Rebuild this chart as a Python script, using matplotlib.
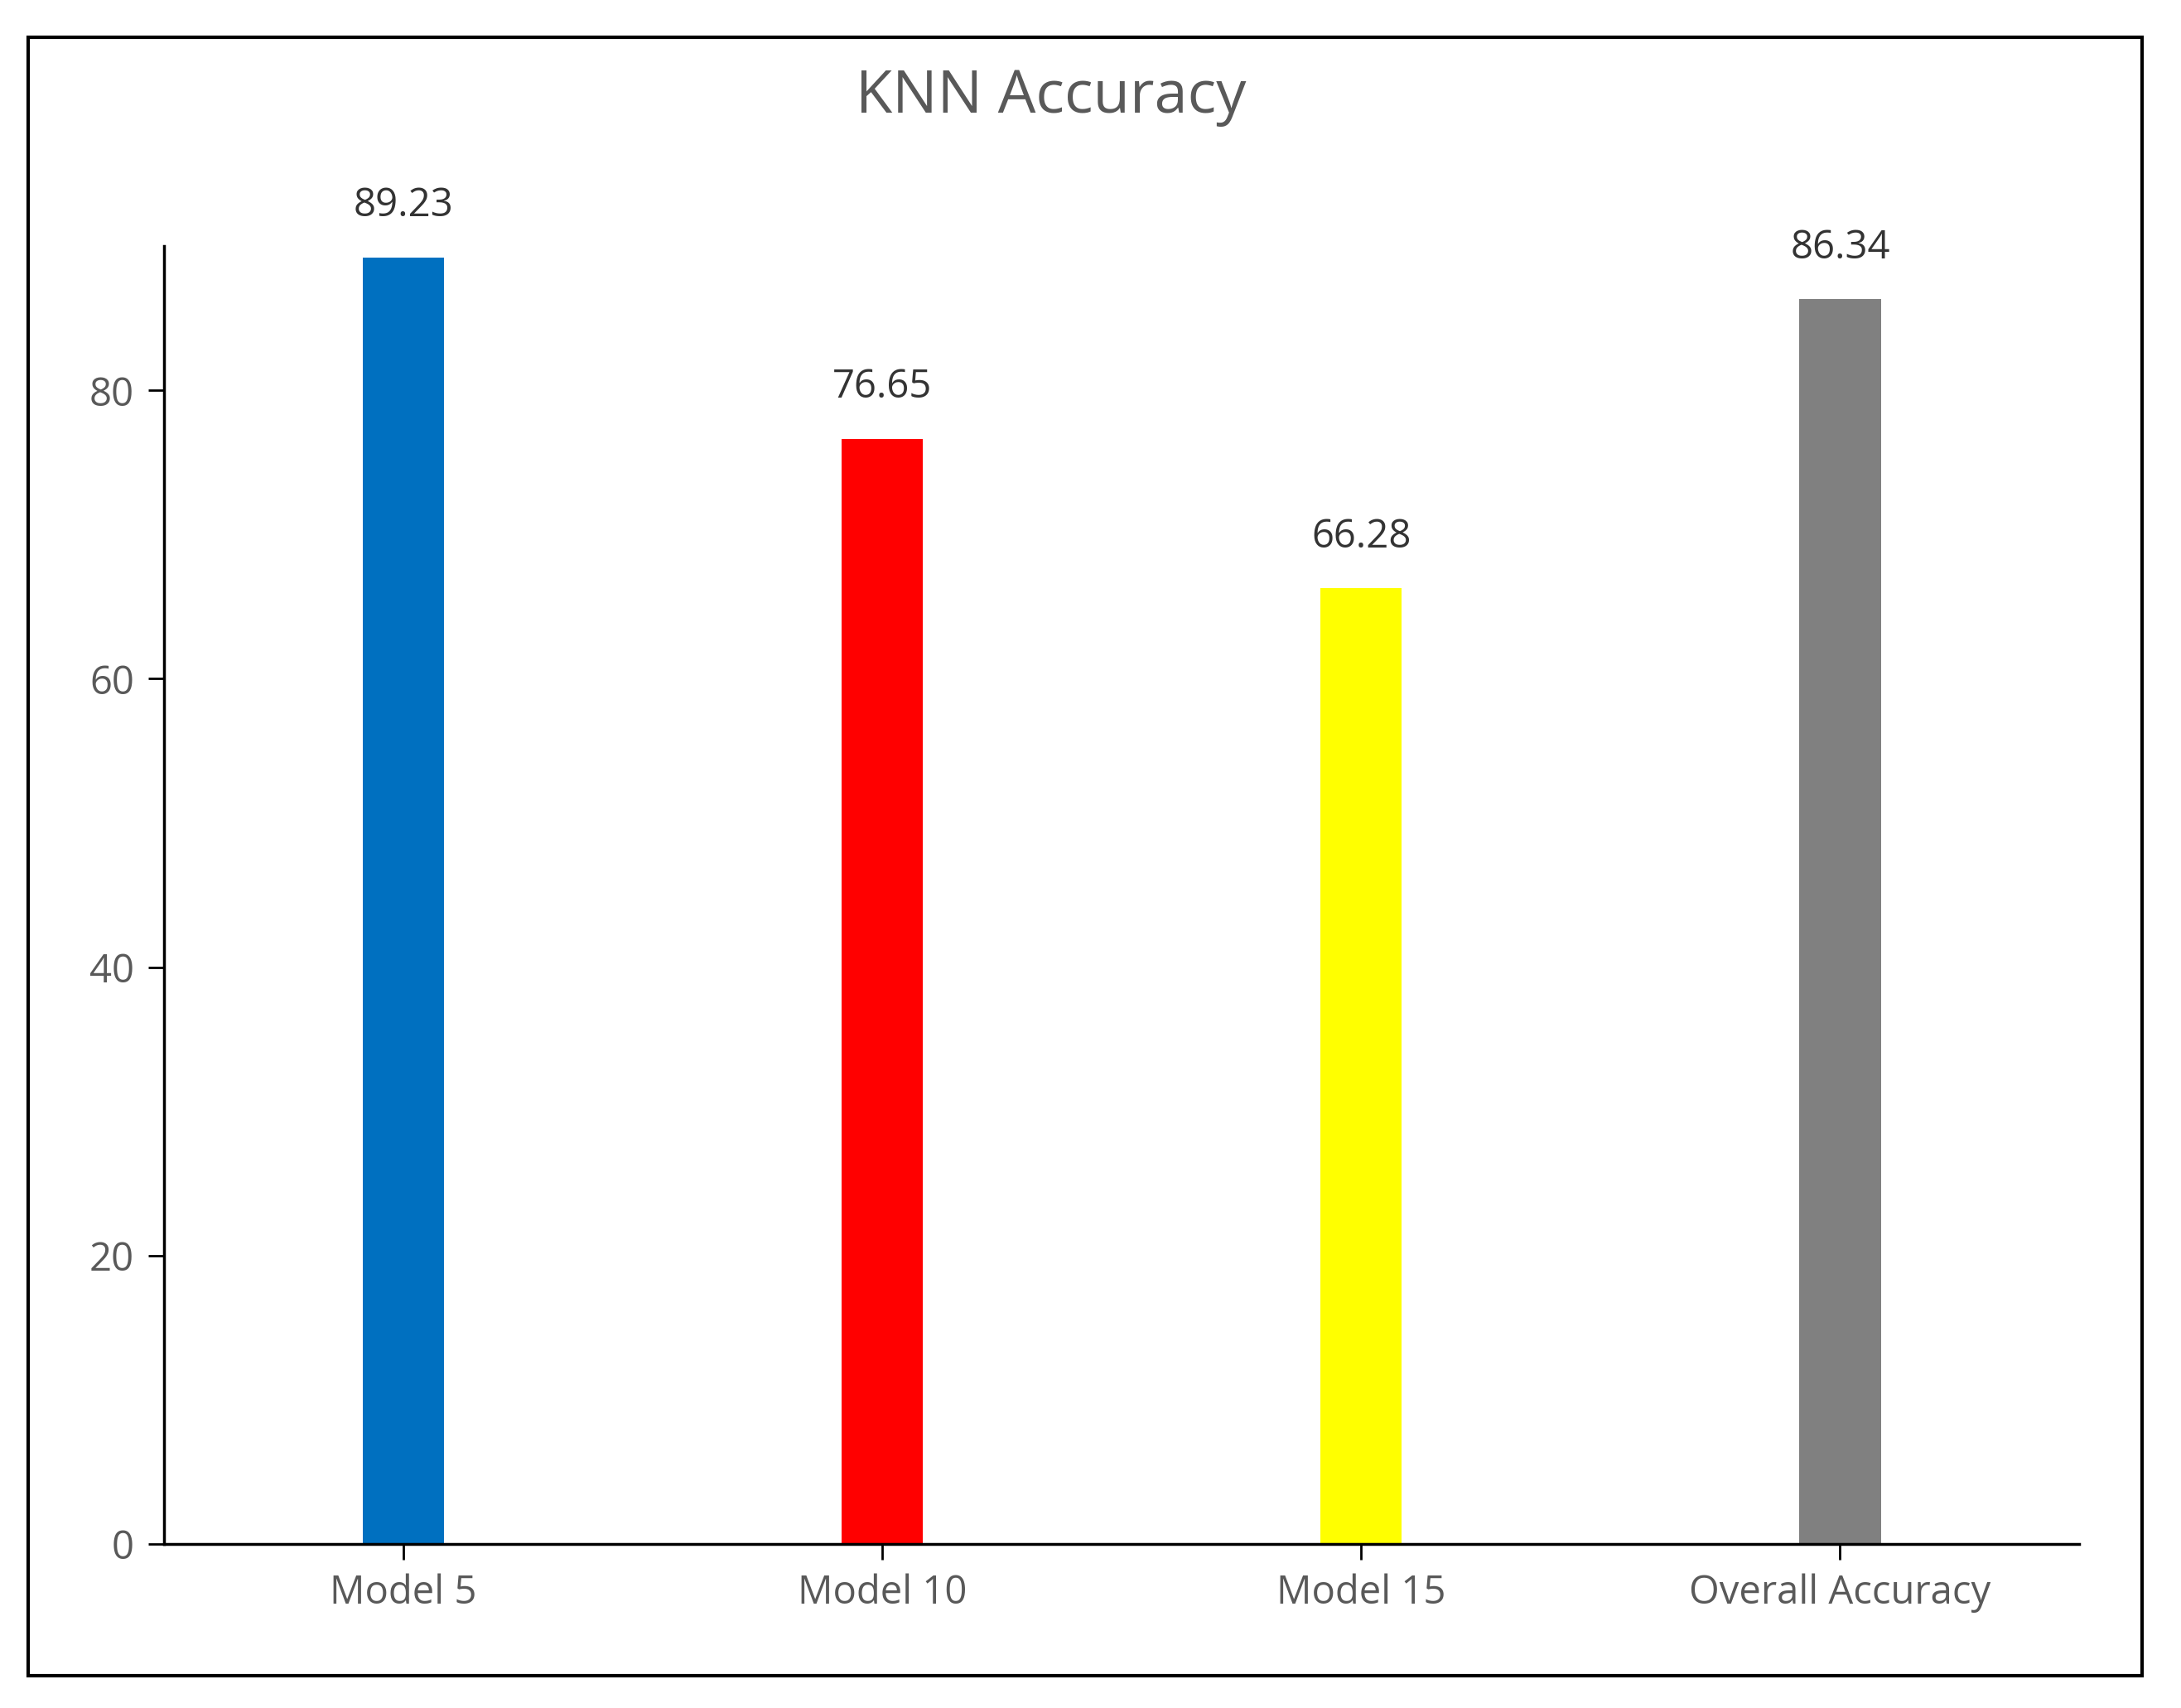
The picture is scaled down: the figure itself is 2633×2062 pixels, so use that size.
import matplotlib
matplotlib.use("Agg")
import matplotlib.pyplot as plt
from matplotlib.patches import Rectangle

categories = ["Model 5", "Model 10", "Model 15", "Overall Accuracy"]
values = [89.23, 76.65, 66.28, 86.34]
colors = ["#0070C0", "#FF0000", "#FFFF00", "#808080"]
yticks = [0, 20, 40, 60, 80]

plt.rcParams['font.family'] = ['Open Sans', 'DejaVu Sans']
W, H = 1568, 1228
fig = plt.figure(figsize=(26.33, 20.62), dpi=100)
fig.patches.append(Rectangle((20/W, 1-1205/H), 1520/W, 1178/H, transform=fig.transFigure,
                             fill=False, edgecolor="black", linewidth=3))
ax = fig.add_axes([118/W, 1-1110/H, (1495-118)/W, (1110-177)/H])
x = range(len(categories))
ax.bar(x, values, width=0.17, color=colors)
for i, v in enumerate(values):
    ax.text(i, v + 2.2, f"{v:.2f}", ha="center", va="bottom", fontsize=34, color="#333333")
ax.set_ylim(0, 90)
ax.set_xlim(-0.5, 3.5)
ax.set_yticks(yticks)
ax.set_xticks(list(x))
ax.set_xticklabels(categories)
ax.tick_params(axis="both", direction="out", length=14, width=2, labelsize=34,
               labelcolor="#595959", pad=12)
for s in ["top", "right"]:
    ax.spines[s].set_visible(False)
for s in ["left", "bottom"]:
    ax.spines[s].set_linewidth(2.5)
fig.text(0.482, 1-70/H, "KNN Accuracy", ha="center", va="center", fontsize=52, color="#595959")
fig.savefig("out.png", dpi=100)
